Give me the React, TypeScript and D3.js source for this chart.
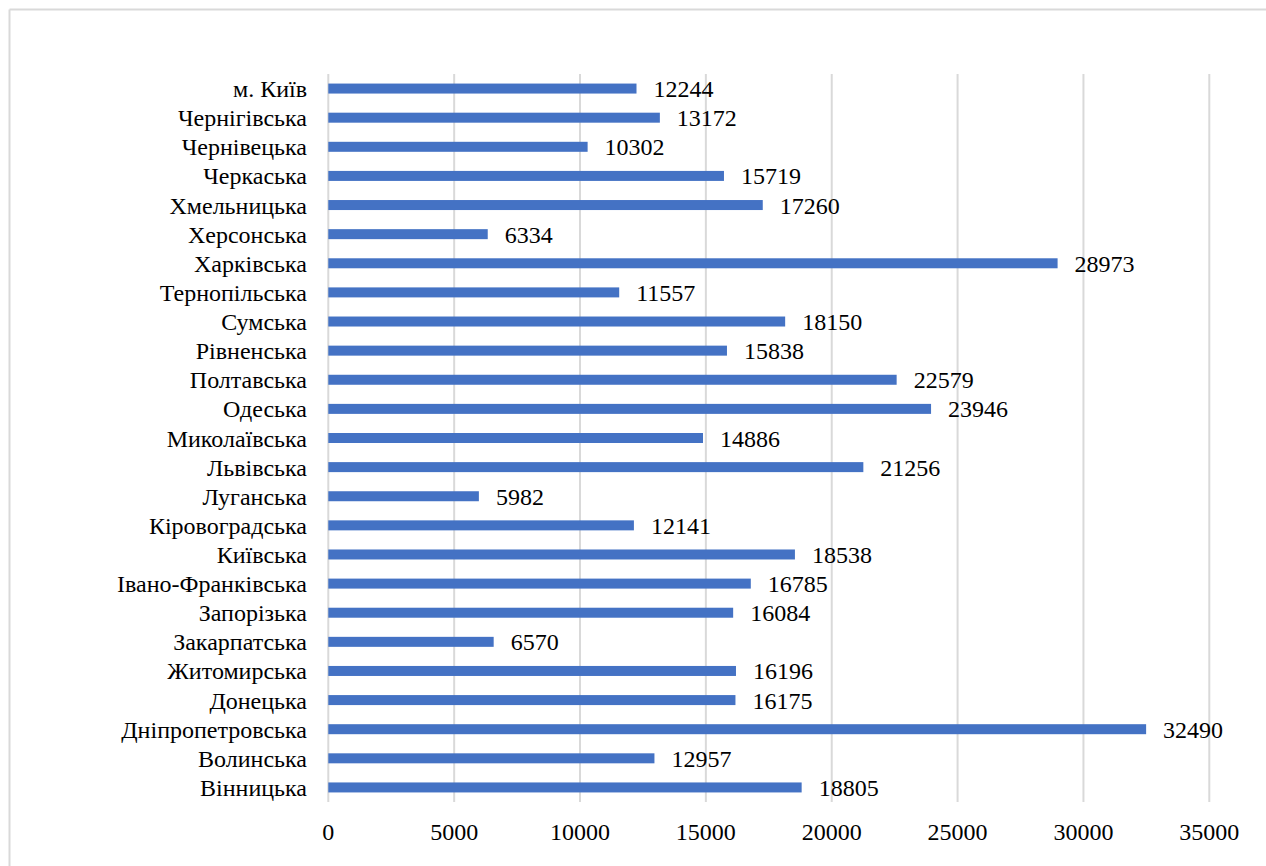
import React from "react";
import * as d3 from "d3";

const categories = [
  "Вінницька",
  "Волинська",
  "Дніпропетровська",
  "Донецька",
  "Житомирська",
  "Закарпатська",
  "Запорізька",
  "Івано-Франківська",
  "Київська",
  "Кіровоградська",
  "Луганська",
  "Львівська",
  "Миколаївська",
  "Одеська",
  "Полтавська",
  "Рівненська",
  "Сумська",
  "Тернопільська",
  "Харківська",
  "Херсонська",
  "Хмельницька",
  "Черкаська",
  "Чернівецька",
  "Чернігівська",
  "м. Київ",
];

const values = [
  18805, 12957, 32490, 16175, 16196, 6570, 16084, 16785, 18538, 12141, 5982,
  21256, 14886, 23946, 22579, 15838, 18150, 11557, 28973, 6334, 17260, 15719,
  10302, 13172, 12244,
];

const xTicks = [0, 5000, 10000, 15000, 20000, 25000, 30000, 35000];

const W = 1266;
const H = 866;

export default function App() {
  const x = d3.scaleLinear().domain([0, 35000]).range([328.3, 1209.3]);
  const pi = 1 - 10 / 29.12;
  const y = d3
    .scaleBand<string>()
    .domain([...categories].reverse())
    .range([74, 802])
    .paddingInner(pi)
    .paddingOuter(pi / 2);
  const bw = y.bandwidth();

  return (
    <svg width={W} height={H} style={{ position: "absolute", left: 0, top: 0 }}>
      <line x1={9.5} x2={W} y1={9.5} y2={9.5} stroke="#d9d9d9" strokeWidth={2} />
      <line x1={9.5} x2={9.5} y1={9.5} y2={H} stroke="#d9d9d9" strokeWidth={2} />
      {xTicks.map((t) => (
        <line key={"g" + t} x1={x(t)} x2={x(t)} y1={74} y2={802} stroke="#d9d9d9" strokeWidth={2} />
      ))}
      {categories.map((c, i) => (
        <rect key={"b" + c} x={x(0)} y={y(c)} width={x(values[i]) - x(0)} height={bw} fill="#4472C4" />
      ))}
      {categories.map((c, i) => (
        <text key={"l" + c} x={307} y={(y(c) as number) + bw / 2 + 8.5} textAnchor="end" fontSize={24}>
          {c}
        </text>
      ))}
      {categories.map((c, i) => (
        <text key={"v" + c} x={x(values[i]) + 17} y={(y(c) as number) + bw / 2 + 8.5} fontSize={24}>
          {values[i]}
        </text>
      ))}
      {xTicks.map((t) => (
        <text key={"t" + t} x={x(t)} y={840} textAnchor="middle" fontSize={24}>
          {t}
        </text>
      ))}
    </svg>
  );
}
